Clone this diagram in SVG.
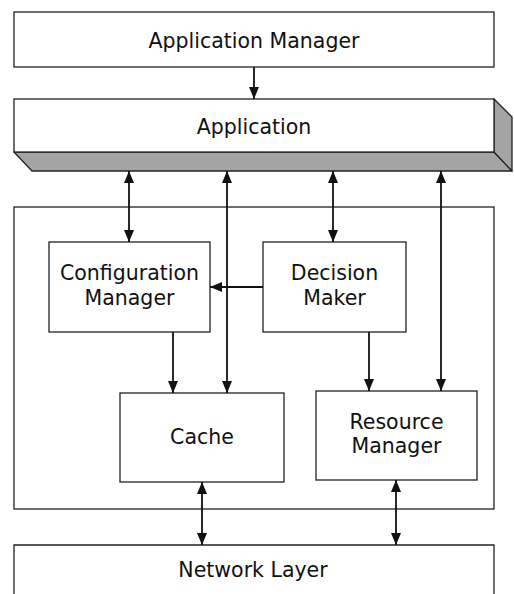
<svg xmlns="http://www.w3.org/2000/svg" width="514" height="594" viewBox="0 0 514 594">
<style>
.box{fill:#fff;stroke:#222;stroke-width:1.3}
.lbl{font-family:"DejaVu Sans",sans-serif;font-size:20.5px;fill:#111;text-anchor:middle}
.c{stroke:#111;stroke-width:1.8;fill:none}
.bevel{fill:#a4a4a4;stroke:#222;stroke-width:1.3;stroke-linejoin:round}
</style>
<defs>
<marker id="ah" markerUnits="userSpaceOnUse" markerWidth="12" markerHeight="10" refX="12" refY="5" orient="auto-start-reverse" viewBox="0 0 12 10">
<path d="M0,0 L12,5 L0,10 z" fill="#111"/>
</marker>
</defs>
<rect width="514" height="594" fill="#fff"/>
<g id="app-manager">
<rect class="box" x="14" y="12" width="480" height="55"/>
<text class="lbl" x="254" y="48">Application Manager</text>
</g>
<g id="application">
<path class="bevel" d="M14,152 L32,171 L512,171 L494,152 Z"/>
<path class="bevel" d="M494,99 L512,117 L512,171 L494,152 Z"/>
<rect class="box" x="14" y="99" width="480" height="53"/>
<text class="lbl" x="254" y="134">Application</text>
</g>
<g id="container">
<rect class="box" x="14" y="207" width="480" height="302" fill="none"/>
</g>
<g id="config-manager">
<rect class="box" x="49" y="242" width="161" height="90"/>
<text class="lbl" x="129.500" y="280">Configuration</text>
<text class="lbl" x="129.500" y="305">Manager</text>
</g>
<g id="decision-maker">
<rect class="box" x="263" y="242" width="143" height="90"/>
<text class="lbl" x="334.500" y="280">Decision</text>
<text class="lbl" x="334.500" y="305">Maker</text>
</g>
<g id="cache">
<rect class="box" x="120" y="393" width="164" height="89"/>
<text class="lbl" x="202" y="444">Cache</text>
</g>
<g id="resource-manager">
<rect class="box" x="316" y="391" width="161" height="89"/>
<text class="lbl" x="396.500" y="429">Resource</text>
<text class="lbl" x="396.500" y="453">Manager</text>
</g>
<g id="network-layer">
<path class="box" d="M14,600 L14,545 L494,545 L494,600"/>
<text class="lbl" x="253" y="577">Network Layer</text>
</g>
<g id="connectors">
<line class="c" x1="254" y1="67" x2="254" y2="99" marker-end="url(#ah)"/>
<line class="c" x1="129" y1="171" x2="129" y2="242" marker-start="url(#ah)" marker-end="url(#ah)"/>
<line class="c" x1="227" y1="171" x2="227" y2="393" marker-start="url(#ah)" marker-end="url(#ah)"/>
<line class="c" x1="333" y1="171" x2="333" y2="242" marker-start="url(#ah)" marker-end="url(#ah)"/>
<line class="c" x1="441" y1="171" x2="441" y2="391" marker-start="url(#ah)" marker-end="url(#ah)"/>
<line class="c" x1="263" y1="287" x2="210" y2="287" marker-end="url(#ah)"/>
<line class="c" x1="173" y1="332" x2="173" y2="393" marker-end="url(#ah)"/>
<line class="c" x1="369" y1="332" x2="369" y2="391" marker-end="url(#ah)"/>
<line class="c" x1="202" y1="482" x2="202" y2="545" marker-start="url(#ah)" marker-end="url(#ah)"/>
<line class="c" x1="396" y1="480" x2="396" y2="545" stroke-width="2.4" marker-start="url(#ah)" marker-end="url(#ah)"/>
</g>
</svg>
